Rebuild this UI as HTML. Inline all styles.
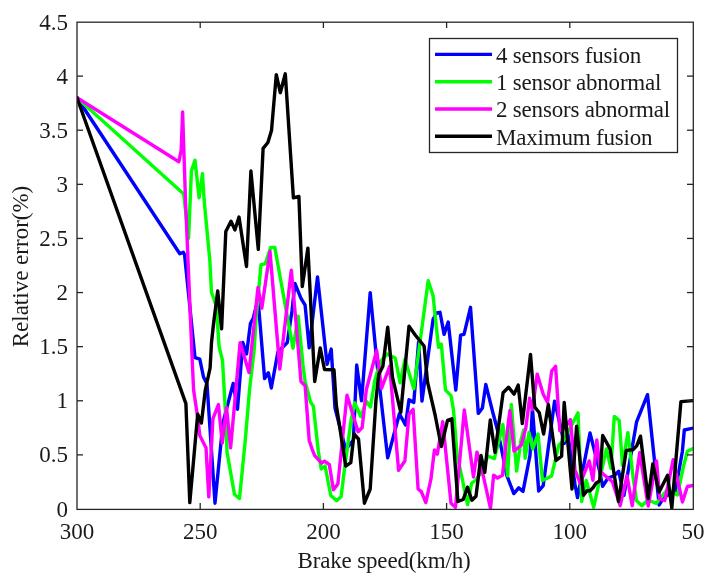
<!DOCTYPE html>
<html><head><meta charset="utf-8"><style>
html,body{margin:0;padding:0;background:#fff;}
svg{display:block;will-change:transform;}
text{font-family:"Liberation Serif",serif;font-size:23px;fill:#1a1a1a;}
</style></head><body>
<svg width="710" height="581" viewBox="0 0 710 581">
<rect width="710" height="581" fill="#fff"/>
<defs><clipPath id="c"><rect x="77" y="20" width="616" height="489"/></clipPath></defs>
<g clip-path="url(#c)">
<polyline points="77.0,97.8 179.8,253.7 183.3,252.2 184.6,255.0 195.0,357.7 199.8,359.1 203.5,377.0 207.0,384.0 215.0,503.2 222.9,423.0 233.2,383.4 237.5,409.2 242.8,342.5 246.6,353.9 250.4,323.6 253.3,317.9 258.0,298.9 264.6,378.5 268.4,372.8 271.3,388.0 277.9,352.0 287.3,342.5 292.1,310.3 294.9,283.5 301.0,298.3 305.1,305.2 309.2,347.9 317.5,277.0 327.1,364.4 331.2,349.1 335.0,408.0 345.7,449.6 353.4,440.0 356.7,365.0 361.5,400.8 370.2,292.7 377.3,366.3 387.7,457.9 399.4,413.8 405.5,425.0 409.0,399.7 413.8,402.5 418.6,342.0 422.0,401.1 433.1,319.2 436.5,313.0 440.0,312.3 444.1,334.4 448.2,322.0 455.8,390.1 460.6,335.1 464.0,334.4 470.5,307.3 478.3,413.4 482.4,407.9 485.8,384.4 492.7,412.0 497.5,430.0 501.1,447.0 506.7,475.2 513.8,493.6 518.7,487.9 523.0,491.4 530.0,455.4 532.4,408.0 538.7,491.0 543.2,485.7 554.6,401.1 564.3,443.4 567.9,434.4 575.1,485.0 577.5,497.6 590.0,433.0 599.7,471.3 602.6,486.4 608.0,478.0 614.2,475.8 618.7,471.3 624.0,495.3 636.6,421.8 647.5,394.7 659.2,505.0 663.4,497.8 675.4,490.7 682.4,451.2 684.3,430.0 695.0,427.7" fill="none" stroke="#0000ff" stroke-width="3.4" stroke-linejoin="round" stroke-linecap="round"/>
<polyline points="77.0,97.8 183.7,194.0 188.6,238.2 191.4,171.0 195.0,160.3 199.1,197.7 202.5,173.6 204.1,200.0 209.8,260.0 211.5,292.3 216.3,306.0 219.1,346.7 222.5,360.5 226.0,421.7 227.0,452.0 234.5,494.5 239.5,498.5 245.3,440.0 249.5,390.0 254.2,349.4 256.1,317.9 261.0,264.6 265.2,263.9 270.7,247.4 274.8,247.4 293.0,348.2 298.2,316.2 303.0,365.0 305.1,381.5 310.6,402.2 313.4,406.3 318.2,450.2 321.2,469.0 325.1,466.0 330.8,495.5 336.6,500.6 341.1,496.8 344.4,469.7 351.2,419.3 354.6,402.8 360.8,416.5 366.3,401.4 370.5,406.9 374.6,381.5 380.1,362.2 387.0,353.9 395.2,358.0 400.1,382.9 405.0,359.4 413.8,388.7 428.2,280.7 433.1,295.8 437.2,335.0 438.6,347.4 441.3,344.0 445.5,390.1 451.0,395.6 453.5,410.0 457.0,453.9 467.6,504.6 471.6,483.3 476.4,479.5 481.1,472.0 488.0,456.0 494.4,458.7 502.9,424.6 507.6,475.8 511.3,404.4 516.6,471.0 521.0,440.0 523.7,430.0 525.1,458.2 529.0,432.5 532.7,449.0 538.0,434.0 542.5,480.5 548.0,477.8 551.6,475.9 558.8,445.2 564.0,440.0 578.0,412.9 581.7,501.5 586.2,480.3 593.7,507.2 606.4,448.9 610.9,468.3 614.3,416.4 619.2,420.6 622.5,465.4 627.9,432.6 632.9,475.8 636.4,500.5 641.9,505.7 648.0,500.0 656.3,503.4 667.6,489.3 677.5,495.0 683.1,468.1 687.4,451.2 695.0,447.7" fill="none" stroke="#00ff00" stroke-width="3.4" stroke-linejoin="round" stroke-linecap="round"/>
<polyline points="77.0,97.8 178.9,161.7 181.2,150.0 182.6,112.0 185.5,200.0 188.0,260.0 192.2,360.0 193.6,390.0 197.7,417.5 199.8,435.5 205.3,446.5 206.0,447.7 208.8,496.8 212.9,418.9 218.4,404.5 222.3,443.0 226.5,407.4 230.6,447.9 240.1,342.7 249.0,372.5 258.0,287.5 261.8,308.2 270.0,251.5 279.8,369.0 291.3,270.1 296.8,331.3 301.0,381.5 305.1,385.7 309.2,440.5 312.0,448.8 314.7,455.7 321.6,463.2 324.4,461.2 329.3,464.5 333.4,489.7 337.9,483.9 347.0,395.2 358.1,431.7 362.2,427.5 366.3,389.7 376.7,350.5 381.5,388.4 389.7,366.3 398.6,470.3 404.8,461.0 405.0,459.4 409.0,414.1 413.1,409.4 418.1,489.0 421.3,491.6 425.8,502.6 431.0,478.7 434.4,450.0 437.3,454.2 442.7,421.7 451.0,503.2 455.5,507.2 464.3,410.0 473.5,477.0 477.0,452.1 483.3,476.0 490.5,508.5 493.6,475.2 497.5,478.0 502.5,475.2 507.4,430.0 509.9,410.6 514.0,451.0 521.2,445.2 525.8,428.1 529.6,398.1 532.4,409.7 537.2,374.1 543.2,394.2 547.6,402.4 551.7,371.0 555.6,366.3 559.8,430.7 565.0,428.0 570.4,419.6 575.0,470.0 580.2,483.3 589.2,460.9 592.9,480.3 596.8,440.0 600.4,471.3 603.4,474.3 612.4,481.8 620.2,505.7 627.0,475.8 632.2,505.7 639.7,452.7 648.2,506.0 656.5,461.0 659.8,499.2 664.8,500.6 673.2,459.7 682.4,502.0 687.4,486.5 695.0,485.1" fill="none" stroke="#ff00ff" stroke-width="3.4" stroke-linejoin="round" stroke-linecap="round"/>
<polyline points="77.0,97.8 185.9,403.6 189.8,502.6 197.7,414.2 201.4,423.1 205.3,390.0 210.1,368.0 211.5,342.5 213.6,323.3 217.7,291.0 221.6,328.8 225.8,231.6 231.0,221.3 234.9,229.9 239.0,217.0 246.5,266.5 250.9,171.0 258.3,249.4 263.1,148.3 267.9,142.5 271.5,130.6 276.3,74.6 280.3,92.7 285.3,73.8 293.4,197.9 298.9,196.5 302.3,286.6 307.9,248.1 314.7,381.5 320.2,347.9 324.5,369.5 334.0,369.8 336.3,405.0 340.2,430.3 345.7,466.1 350.8,462.6 354.0,434.0 358.5,439.0 364.4,503.2 370.2,489.0 376.0,400.0 378.7,374.6 382.9,366.3 387.7,327.1 392.5,377.3 400.8,412.4 409.0,326.1 415.2,335.0 424.1,346.0 427.5,381.8 435.1,415.0 441.3,446.5 447.5,420.3 451.8,418.8 457.9,501.5 463.2,499.5 467.5,487.2 471.9,500.2 476.0,496.2 481.0,455.5 484.8,472.4 490.3,420.0 495.0,452.4 503.1,392.7 508.6,387.2 514.1,394.1 518.2,385.1 522.3,423.6 530.5,354.4 534.7,407.0 539.3,412.8 543.6,434.0 548.3,404.5 556.0,460.5 561.6,456.1 564.2,402.5 572.0,489.0 576.6,426.2 583.5,495.3 587.0,490.8 590.0,490.8 593.0,487.8 596.0,483.3 599.7,481.0 602.7,435.5 610.1,448.9 618.5,501.5 626.2,450.4 632.9,449.7 636.7,445.9 640.5,436.2 648.2,498.5 652.8,463.9 659.1,492.1 667.6,475.2 671.8,508.0 680.9,401.6 695.0,400.5" fill="none" stroke="#000000" stroke-width="3.4" stroke-linejoin="round" stroke-linecap="round"/>
</g>
<g stroke="#262626" stroke-width="1.3" fill="none">
<rect x="77" y="22.2" width="616.3" height="487.2"/>
<line x1="77" y1="454.89" x2="83" y2="454.89"/>
<line x1="693" y1="454.89" x2="687" y2="454.89"/>
<line x1="77" y1="400.78" x2="83" y2="400.78"/>
<line x1="693" y1="400.78" x2="687" y2="400.78"/>
<line x1="77" y1="346.67" x2="83" y2="346.67"/>
<line x1="693" y1="346.67" x2="687" y2="346.67"/>
<line x1="77" y1="292.56" x2="83" y2="292.56"/>
<line x1="693" y1="292.56" x2="687" y2="292.56"/>
<line x1="77" y1="238.44" x2="83" y2="238.44"/>
<line x1="693" y1="238.44" x2="687" y2="238.44"/>
<line x1="77" y1="184.33" x2="83" y2="184.33"/>
<line x1="693" y1="184.33" x2="687" y2="184.33"/>
<line x1="77" y1="130.22" x2="83" y2="130.22"/>
<line x1="693" y1="130.22" x2="687" y2="130.22"/>
<line x1="77" y1="76.11" x2="83" y2="76.11"/>
<line x1="693" y1="76.11" x2="687" y2="76.11"/>
<line x1="569.80" y1="509" x2="569.80" y2="503"/>
<line x1="569.80" y1="22" x2="569.80" y2="28"/>
<line x1="446.60" y1="509" x2="446.60" y2="503"/>
<line x1="446.60" y1="22" x2="446.60" y2="28"/>
<line x1="323.40" y1="509" x2="323.40" y2="503"/>
<line x1="323.40" y1="22" x2="323.40" y2="28"/>
<line x1="200.20" y1="509" x2="200.20" y2="503"/>
<line x1="200.20" y1="22" x2="200.20" y2="28"/>
</g>
<text x="68" y="516.5" text-anchor="end">0</text>
<text x="68" y="462.4" text-anchor="end">0.5</text>
<text x="68" y="408.3" text-anchor="end">1</text>
<text x="68" y="354.2" text-anchor="end">1.5</text>
<text x="68" y="300.1" text-anchor="end">2</text>
<text x="68" y="245.9" text-anchor="end">2.5</text>
<text x="68" y="191.8" text-anchor="end">3</text>
<text x="68" y="137.7" text-anchor="end">3.5</text>
<text x="68" y="83.6" text-anchor="end">4</text>
<text x="68" y="29.5" text-anchor="end">4.5</text>
<text x="693.0" y="539" text-anchor="middle">50</text>
<text x="569.8" y="539" text-anchor="middle">100</text>
<text x="446.6" y="539" text-anchor="middle">150</text>
<text x="323.4" y="539" text-anchor="middle">200</text>
<text x="200.2" y="539" text-anchor="middle">250</text>
<text x="77.0" y="539" text-anchor="middle">300</text>
<text x="384" y="568" text-anchor="middle" letter-spacing="-0.15">Brake speed(km/h)</text>
<text transform="translate(27.6,266.5) rotate(-90)" text-anchor="middle">Relative error(%)</text>
<rect x="429.5" y="38.5" width="248" height="114" fill="#fff" stroke="#262626" stroke-width="1.3"/>
<line x1="435" y1="54.4" x2="492" y2="54.4" stroke="#0000ff" stroke-width="3.4"/>
<text x="496" y="62.7" letter-spacing="-0.2">4 sensors fusion</text>
<line x1="435" y1="81.7" x2="492" y2="81.7" stroke="#00ff00" stroke-width="3.4"/>
<text x="496" y="90.0" letter-spacing="-0.2">1 sensor abnormal</text>
<line x1="435" y1="109.0" x2="492" y2="109.0" stroke="#ff00ff" stroke-width="3.4"/>
<text x="496" y="117.3" letter-spacing="-0.2">2 sensors abnormal</text>
<line x1="435" y1="136.3" x2="492" y2="136.3" stroke="#000000" stroke-width="3.4"/>
<text x="496" y="144.6" letter-spacing="-0.2">Maximum fusion</text>
</svg>
</body></html>
